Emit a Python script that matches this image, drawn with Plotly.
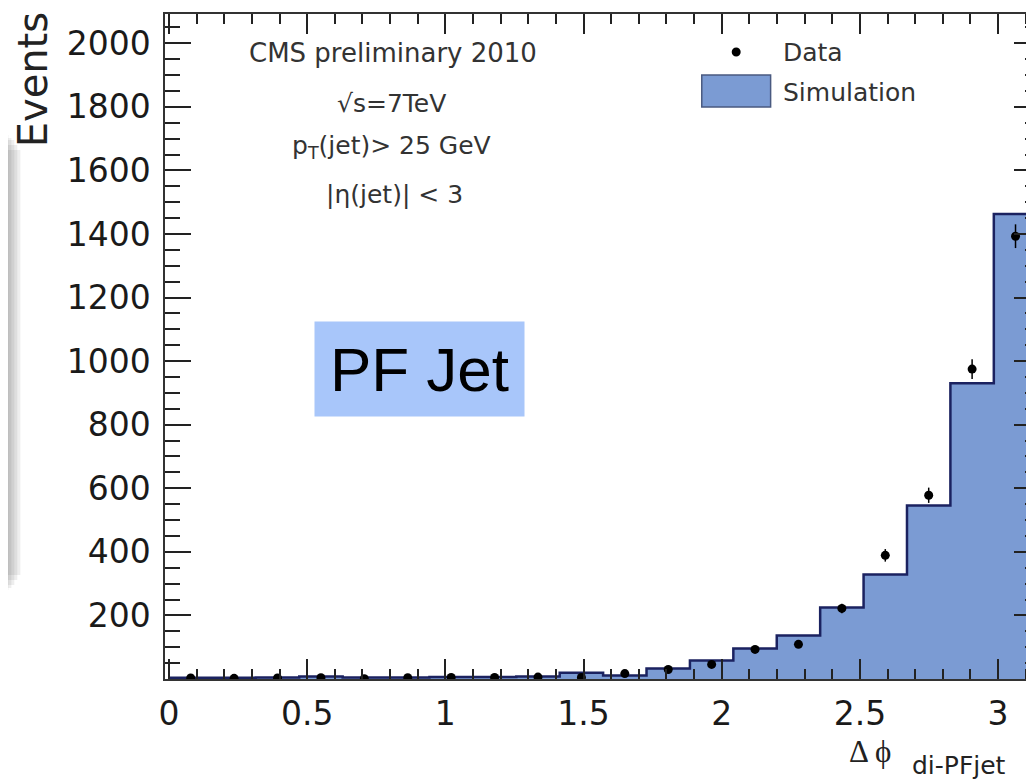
import numpy as np
import plotly.graph_objects as go

# ---------------- data ----------------
BIN_COUNT = 20
PHI_MAX = np.pi
sim_counts = [4, 4, 5, 8, 5, 5, 6, 6, 8, 20, 11, 33, 58, 96, 137, 225, 329, 546, 930, 1463]
data_counts = [3, 2, 3, 4, 1, 4, 5, 5, 6, 5, 17, 30, 46, 93, 109, 222, 389, 578, 975, 1393]
x_tick_vals = [0, 0.5, 1, 1.5, 2, 2.5, 3]
x_tick_text = ["0", "0.5", "1", "1.5", "2", "2.5", "3"]
y_tick_vals = [200, 400, 600, 800, 1000, 1200, 1400, 1600, 1800, 2000]
y_tick_text = [str(v) for v in y_tick_vals]

edges = np.linspace(0, PHI_MAX, BIN_COUNT + 1)
centers = 0.5 * (edges[:-1] + edges[1:])
data_err = np.sqrt(np.array(data_counts, dtype=float))

# ---------------- layout geometry ----------------
# page is rendered with the default 8px body margin; coordinates below are page pixels
OFF = 8
W, H = 1034, 783
PLOT_LEFT, PLOT_TOP, PLOT_BOTTOM = 165, 14, 679          # page pixels
X0_PAGE, X_SCALE = 169, 277.0                             # page x of phi=0, px per unit
L = PLOT_LEFT - OFF
T = PLOT_TOP - OFF
B = H - (PLOT_BOTTOM - OFF)
R = 0
PLOT_W = W - L - R
PLOT_H = H - T - B
x_start = (PLOT_LEFT - X0_PAGE) / X_SCALE
x_end = x_start + PLOT_W / X_SCALE


def px(x):
    return (x - OFF - L) / PLOT_W


def py(y):
    return (H - B - (y - OFF)) / PLOT_H


FILL = "#7b9bd3"
EDGE = "#1b2260"
SANS = "DejaVu Sans"

fig = go.Figure()

# simulation histogram (step outline + fill)
fig.add_trace(go.Scatter(
    x=list(edges), y=list(sim_counts) + [sim_counts[-1]],
    mode="lines", line=dict(shape="hv", color=EDGE, width=2.5),
    fill="tozeroy", fillcolor=FILL, showlegend=False, hoverinfo="skip"))

# data points
fig.add_trace(go.Scatter(
    x=list(centers), y=data_counts, mode="markers",
    marker=dict(color="black", size=9),
    error_y=dict(type="data", array=list(data_err), color="black", thickness=1.5, width=0),
    showlegend=False))

shapes = []
# soft grey shadow strip at far left
for w, y0, y1 in [(20, 150, 575), (17, 145, 580), (14, 140, 585), (11, 138, 588),
                  (8, 135, 590), (5, 132, 592), (2, 130, 594)]:
    shapes.append(dict(type="rect", xref="paper", yref="paper",
                       x0=px(0), x1=px(w), y0=py(y1), y1=py(y0),
                       fillcolor="#404040", opacity=0.09, line=dict(width=0), layer="above"))
# legend markers
shapes.append(dict(type="circle", xref="paper", yref="paper",
                   x0=px(733), x1=px(742), y0=py(56.5), y1=py(47.5),
                   fillcolor="black", line=dict(width=0)))
shapes.append(dict(type="rect", xref="paper", yref="paper",
                   x0=px(703), x1=px(772), y0=py(107), y1=py(75),
                   fillcolor=FILL, line=dict(color="#4a5a80", width=1.5)))

annotations = []


def ann(text, x, y, size, family=SANS, color="#333333", xanchor="center", **kw):
    annotations.append(dict(text=text, x=px(x), y=py(y), xref="paper", yref="paper",
                            showarrow=False, xanchor=xanchor, yanchor="middle",
                            font=dict(size=size, family=family, color=color), **kw))


ann("CMS preliminary 2010", 394, 53, 26)
ann("√s=7TeV", 392, 103, 25)
ann("p<sub>T</sub>(jet)> 25 GeV", 392, 147, 25)
ann("|η(jet)| < 3", 395, 195, 25)
ann("Data", 782, 52, 25, xanchor="left")
ann("Simulation", 782, 92, 25, xanchor="left")
ann("Events", 33, 80, 40, color="#222222", textangle=-90)
ann("Δ ϕ", 872, 751, 31, family="Liberation Serif", color="#222222")
ann("di-PFjet", 912, 765, 25, color="#222222", xanchor="left")
ann("PF Jet", 420.5, 369, 62, family="Liberation Sans", color="black",
    bgcolor="#a8c6fa", width=209, height=94, borderpad=0)

tickfont = dict(family=SANS, size=33, color="#1a1a1a")

fig.update_layout(
    width=W, height=H, autosize=False,
    margin=dict(l=L, r=R, t=T, b=B, pad=0),
    paper_bgcolor="white", plot_bgcolor="white",
    showlegend=False,
    shapes=shapes, annotations=annotations,
    xaxis=dict(range=[x_start, x_end],
               tickmode="array", tickvals=x_tick_vals, ticktext=x_tick_text,
               ticks="inside", ticklen=20, tickwidth=1.5, tickcolor="#222",
               minor=dict(tickmode="linear", tick0=0, dtick=0.1, ticks="inside",
                          ticklen=10, tickwidth=1.5, tickcolor="#222"),
               showline=True, linecolor="#333", linewidth=1.5, mirror="ticks",
               showgrid=False, zeroline=False, tickfont=tickfont, ticklabelstandoff=5),
    yaxis=dict(range=[0, 2092],
               tickmode="array", tickvals=y_tick_vals, ticktext=y_tick_text,
               ticks="inside", ticklen=26, tickwidth=1.5, tickcolor="#222",
               minor=dict(tickmode="linear", tick0=0, dtick=50, ticks="inside",
                          ticklen=15, tickwidth=1.5, tickcolor="#222"),
               showline=True, linecolor="#333", linewidth=1.5, mirror="ticks",
               showgrid=False, zeroline=False, tickfont=tickfont, ticklabelstandoff=6),
)

fig.write_html("out.html")
